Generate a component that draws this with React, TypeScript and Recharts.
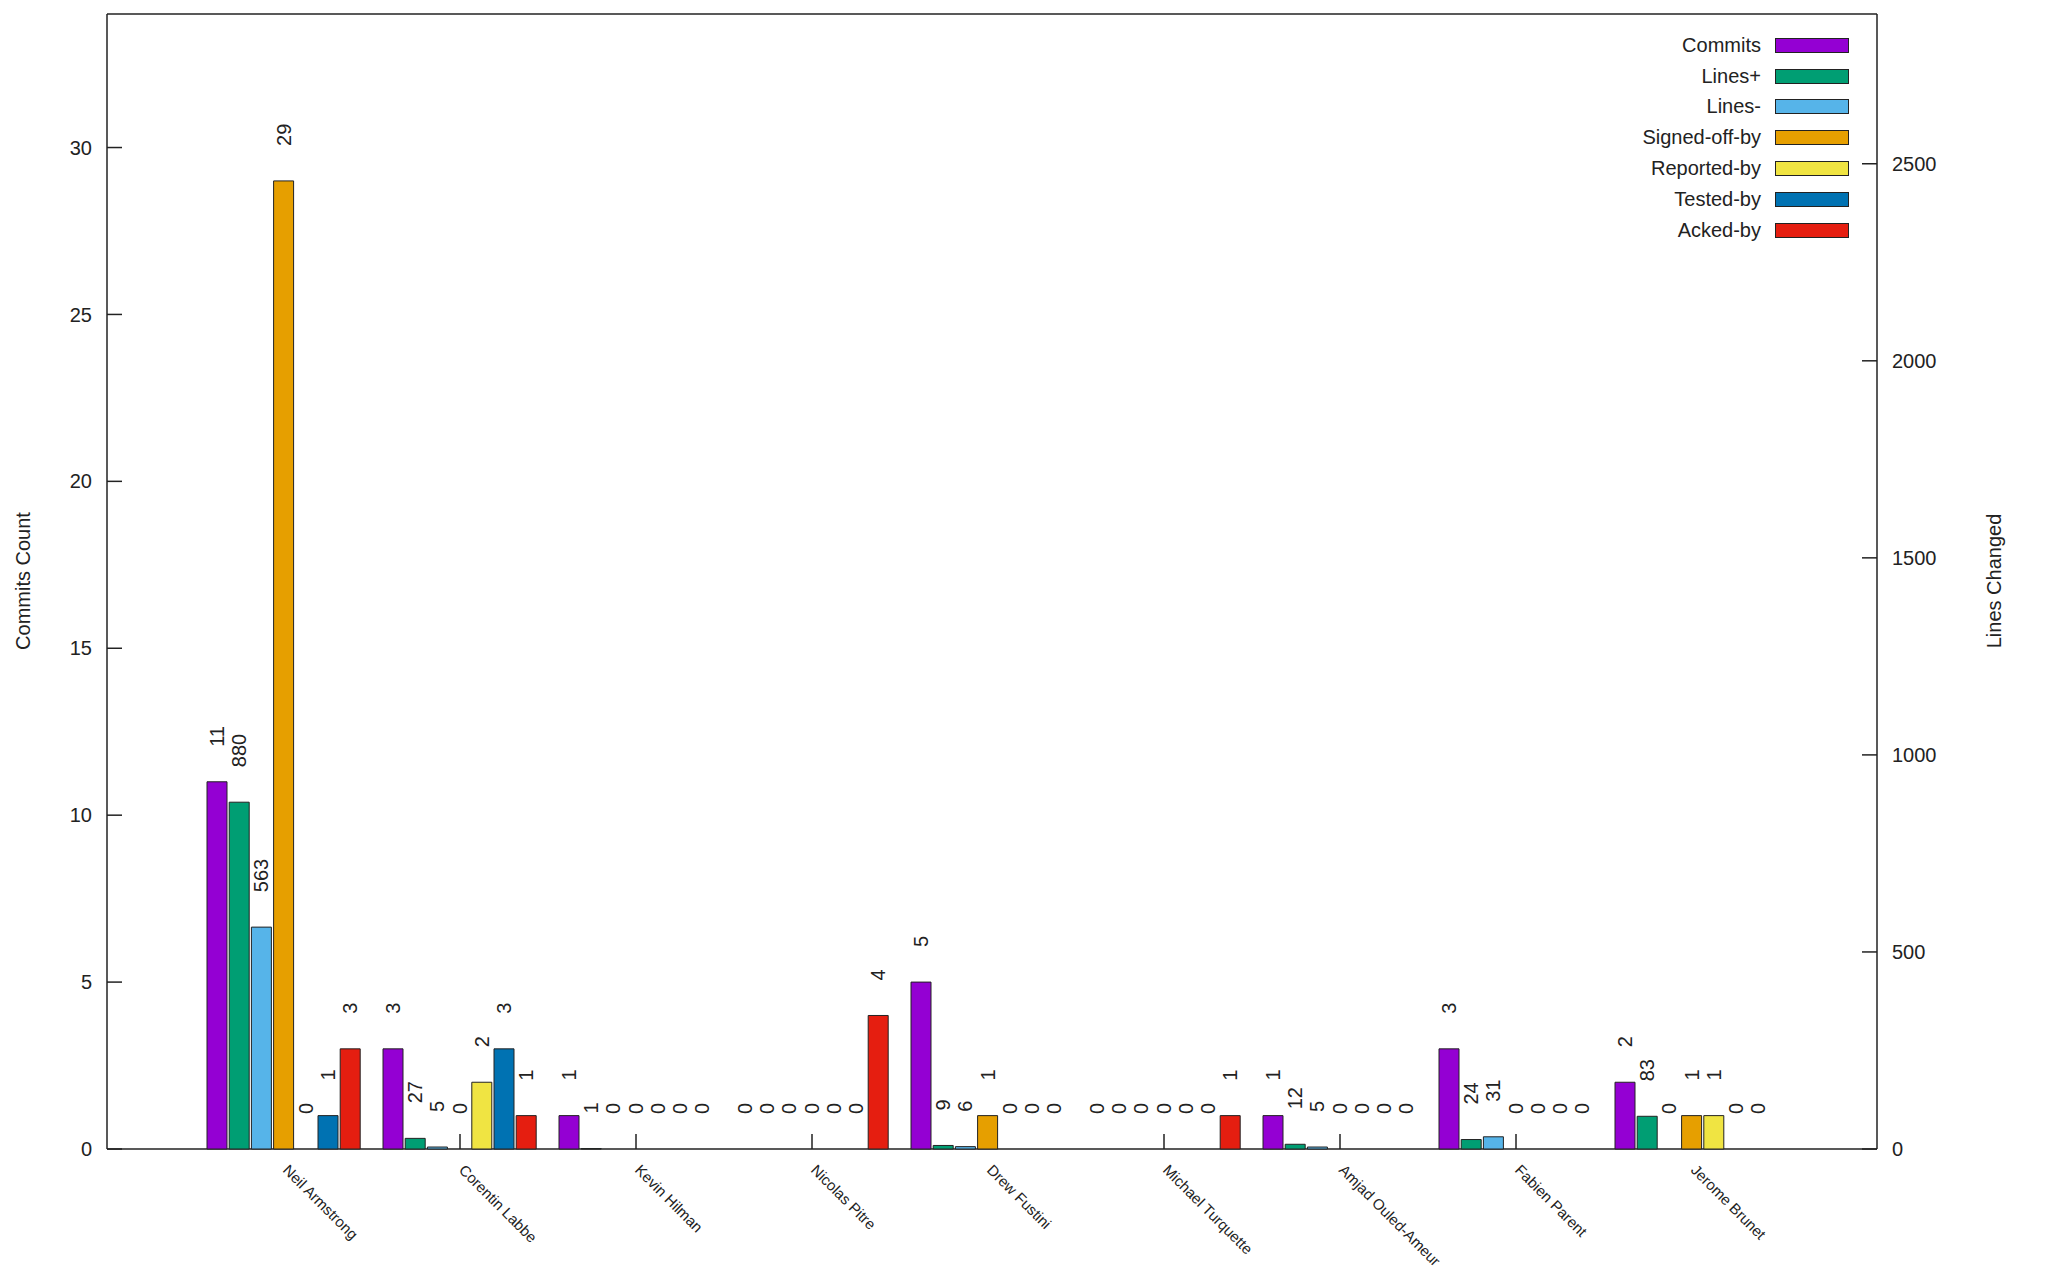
import { Bar, BarChart, LabelList, Legend, Rectangle, ReferenceLine, XAxis, YAxis } from 'recharts';

const authors = [
  'Neil Armstrong',
  'Corentin Labbe',
  'Kevin Hilman',
  'Nicolas Pitre',
  'Drew Fustini',
  'Michael Turquette',
  'Amjad Ouled-Ameur',
  'Fabien Parent',
  'Jerome Brunet',
];

const commits = [11, 3, 1, 0, 5, 0, 1, 3, 2];
const linesAdded = [880, 27, 1, 0, 9, 0, 12, 24, 83];
const linesRemoved = [563, 5, 0, 0, 6, 0, 5, 31, 0];
const signedOffBy = [29, 0, 0, 0, 1, 0, 0, 0, 1];
const reportedBy = [0, 2, 0, 0, 0, 0, 0, 0, 1];
const testedBy = [1, 3, 0, 0, 0, 0, 0, 0, 0];
const ackedBy = [3, 1, 0, 4, 0, 1, 0, 0, 0];

const commitTicks = [0, 5, 10, 15, 20, 25, 30];
const lineTicks = [0, 500, 1000, 1500, 2000, 2500];

const series = [
  { key: 'commits', name: 'Commits', color: '#9400d3', axis: 'left' },
  { key: 'linesAdded', name: 'Lines+', color: '#009e73', axis: 'right' },
  { key: 'linesRemoved', name: 'Lines-', color: '#56b4e9', axis: 'right' },
  { key: 'signedOffBy', name: 'Signed-off-by', color: '#e69f00', axis: 'left' },
  { key: 'reportedBy', name: 'Reported-by', color: '#f0e442', axis: 'left' },
  { key: 'testedBy', name: 'Tested-by', color: '#0072b2', axis: 'left' },
  { key: 'ackedBy', name: 'Acked-by', color: '#e51e10', axis: 'left' },
];

const data = authors.map((author, i) => ({
  author,
  commits: commits[i],
  linesAdded: linesAdded[i],
  linesRemoved: linesRemoved[i],
  signedOffBy: signedOffBy[i],
  reportedBy: reportedBy[i],
  testedBy: testedBy[i],
  ackedBy: ackedBy[i],
}));

const FONT = "'Liberation Sans', Arial, sans-serif";
const INK = '#222';

// zero bars get a hairline height so their label still exists, the shape skips drawing them
const keepZero = (value: any) => (Number(Array.isArray(value) ? value[1] - value[0] : value) === 0 ? 0.01 : 0);

function ValueLabel(props: any) {
  const vb = props.viewBox ?? props;
  const x = (vb.x ?? props.x) + (vb.width ?? props.width) / 2;
  const top = Math.min(vb.y ?? props.y, (vb.y ?? props.y) + (vb.height ?? props.height ?? 0));
  const y = top - 35;
  return (
    <text
      x={x}
      y={y}
      transform={`rotate(-90 ${x} ${y})`}
      textAnchor='start'
      dominantBaseline='central'
      fontSize={20}
      fill={INK}
      fontFamily={FONT}
    >
      {String(props.value ?? 0)}
    </text>
  );
}

function AuthorTick(props: any) {
  const { x, y, payload } = props;
  const tx = x - 2;
  return (
    <text
      x={tx}
      y={y}
      transform={`rotate(45 ${tx} ${y})`}
      textAnchor='start'
      fontSize={15}
      fill={INK}
      fontFamily={FONT}
    >
      {payload.value}
    </text>
  );
}

function renderLegend() {
  return (
    <div style={{ fontFamily: FONT, fontSize: 20, color: INK }}>
      {series.map((s) => (
        <div
          key={s.key}
          style={{ display: 'flex', alignItems: 'center', justifyContent: 'flex-end', height: 30.8 }}
        >
          <span>{s.name}</span>
          <span
            style={{
              display: 'inline-block',
              width: 72,
              height: 13,
              background: s.color,
              border: `1px solid ${INK}`,
              marginLeft: 14,
            }}
          />
        </div>
      ))}
    </div>
  );
}

export default function App() {
  return (
    <div style={{ width: 2032, height: 1270, fontFamily: FONT }}>
      <BarChart
        width={2032}
        height={1270}
        data={data}
        margin={{ top: 6, right: 63, bottom: 9, left: 0 }}
        barSize={20}
        barGap={2.2}
      >
        <XAxis
          dataKey='author'
          height={120}
          interval={0}
          padding={{ left: 89, right: 97 }}
          tickSize={-15}
          tickMargin={37}
          tick={AuthorTick}
          axisLine={{ stroke: INK, strokeWidth: 1.5 }}
          tickLine={{ stroke: INK, strokeWidth: 1.5 }}
          zIndex={0}
        />
        <YAxis
          yAxisId='left'
          width={99}
          domain={[0, 34]}
          ticks={commitTicks}
          tickSize={-15}
          tickMargin={30}
          tick={{ fill: INK, fontSize: 20, fontFamily: FONT }}
          axisLine={{ stroke: INK, strokeWidth: 1.5 }}
          tickLine={{ stroke: INK, strokeWidth: 1.5 }}
        />
        <YAxis
          yAxisId='right'
          orientation='right'
          width={100}
          domain={[0, 2880]}
          ticks={lineTicks}
          tickSize={-15}
          tickMargin={30}
          tick={{ fill: INK, fontSize: 20, fontFamily: FONT }}
          axisLine={{ stroke: INK, strokeWidth: 1.5 }}
          tickLine={{ stroke: INK, strokeWidth: 1.5 }}
        />
        <ReferenceLine yAxisId='left' y={34} stroke={INK} strokeWidth={1.5} />
        <Legend
          layout='vertical'
          align='center'
          verticalAlign='middle'
          content={renderLegend}
          wrapperStyle={{ top: 22, right: 191 }}
        />
        {series.map((s) => (
          <Bar
            key={s.key}
            dataKey={s.key}
            name={s.name}
            yAxisId={s.axis}
            fill={s.color}
            stroke={INK}
            strokeWidth={1}
            minPointSize={keepZero}
            shape={(p: any) => (p.payload?.[s.key] === 0 ? <g /> : <Rectangle {...p} />)}
            isAnimationActive={false}
          >
            <LabelList dataKey={s.key} content={ValueLabel} />
          </Bar>
        ))}
        <text
          x={15}
          y={573}
          transform='rotate(-90 15 573)'
          textAnchor='middle'
          dominantBaseline='central'
          fontSize={20}
          fill={INK}
          fontFamily={FONT}
        >
          Commits Count
        </text>
        <text
          x={1986}
          y={573}
          transform='rotate(-90 1986 573)'
          textAnchor='middle'
          dominantBaseline='central'
          fontSize={20}
          fill={INK}
          fontFamily={FONT}
        >
          Lines Changed
        </text>
      </BarChart>
    </div>
  );
}
